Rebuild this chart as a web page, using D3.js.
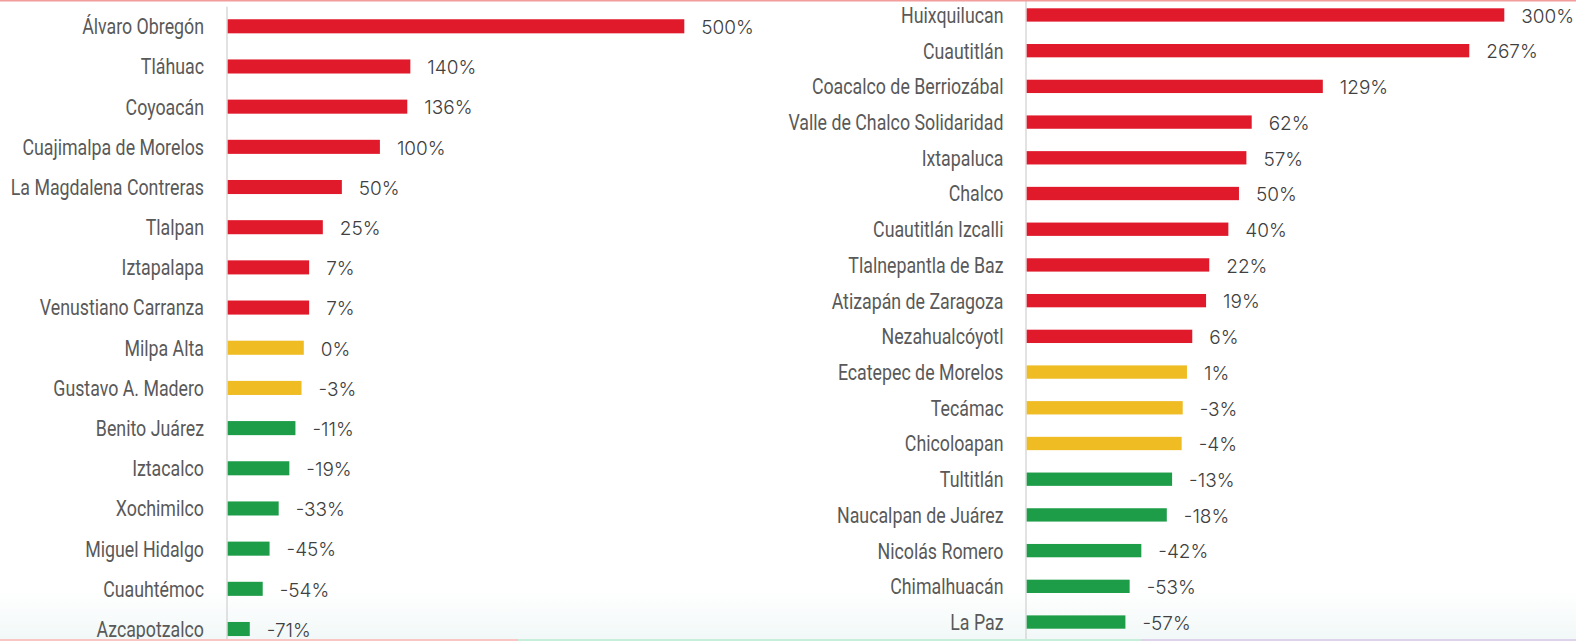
<!DOCTYPE html>
<html>
<head>
<meta charset="utf-8">
<script src="https://cdn.jsdelivr.net/npm/d3@7"></script>
<style>
	body { margin: 0; background: #fff; overflow: hidden; }
	svg { display: block; }
</style>
</head>
<body>
<div id="main-view"></div>
<script>
// CDMX alcaldias (left panel)
var cdmxNames = ["Álvaro Obregón", "Tláhuac", "Coyoacán", "Cuajimalpa de Morelos", "La Magdalena Contreras",
	"Tlalpan", "Iztapalapa", "Venustiano Carranza", "Milpa Alta", "Gustavo A. Madero", "Benito Juárez",
	"Iztacalco", "Xochimilco", "Miguel Hidalgo", "Cuauhtémoc", "Azcapotzalco"];
var cdmxValues = [500, 140, 136, 100, 50, 25, 7, 7, 0, -3, -11, -19, -33, -45, -54, -71];

// Estado de Mexico municipios (right panel)
var edomexNames = ["Huixquilucan", "Cuautitlán", "Coacalco de Berriozábal", "Valle de Chalco Solidaridad",
	"Ixtapaluca", "Chalco", "Cuautitlán Izcalli", "Tlalnepantla de Baz", "Atizapán de Zaragoza",
	"Nezahualcóyotl", "Ecatepec de Morelos", "Tecámac", "Chicoloapan", "Tultitlán", "Naucalpan de Juárez",
	"Nicolás Romero", "Chimalhuacán", "La Paz"];
var edomexValues = [300, 267, 129, 62, 57, 50, 40, 22, 19, 6, 1, -3, -4, -13, -18, -42, -53, -57];

var cdmxDomain = [-100, 500];
var edomexDomain = [-150, 300];

var width = 1576,
	height = 641;

var svg = d3.select("#main-view").append("svg")
	.attr("width", width)
	.attr("height", height);

// faint background shading at the bottom
var defs = svg.append("defs");
var grad = defs.append("linearGradient")
	.attr("id", "bottom-fade")
	.attr("x1", 0).attr("y1", 0).attr("x2", 0).attr("y2", 1);
grad.append("stop").attr("offset", "0%").attr("stop-color", "#ffffff");
grad.append("stop").attr("offset", "100%").attr("stop-color", "#f1f8f7");
svg.append("rect")
	.attr("x", 0).attr("y", 590)
	.attr("width", width).attr("height", 51)
	.attr("fill", "url(#bottom-fade)");

function barColor(v) {
	if (v >= 5) return "#e0192b";
	if (v <= -5) return "#1d9d48";
	return "#efbc23";
}

function drawPanel(names, values, opts) {
	var x = d3.scaleLinear()
		.domain(opts.domain)
		.range(opts.xRange);

	var y = d3.scaleBand()
		.domain(names)
		.range(opts.yRange)
		.paddingInner(opts.padding)
		.paddingOuter(opts.padding / 2);

	var g = svg.append("g");

	var axis = g.append("g")
		.attr("transform", "translate(" + opts.axisX + ",0)")
		.call(d3.axisLeft(y).tickSize(0).tickSizeOuter(0).tickPadding(opts.labelGap));

	axis.select(".domain")
		.attr("stroke", "#d6d6d6")
		.attr("stroke-width", 1.4);

	axis.selectAll("text")
		.attr("x", null)
		.attr("dy", null)
		.attr("transform", "translate(" + (-opts.labelGap) + ",7.9) scale(" + opts.squeeze + ",1)")
		.attr("fill", "#595959")
		.style("font-family", "Roboto, 'DejaVu Sans Condensed', sans-serif")
		.style("font-size", "22.5px");

	var data = names.map(function(n, i) {
		return { name: n, value: values[i] };
	});

	g.selectAll(".bar")
		.data(data)
		.enter().append("rect")
		.attr("class", "bar")
		.attr("x", x(opts.domain[0]))
		.attr("y", function(d) {
			return y(d.name);
		})
		.attr("width", function(d) {
			return x(d.value) - x(opts.domain[0]);
		})
		.attr("height", y.bandwidth())
		.attr("fill", function(d) {
			return barColor(d.value);
		});

	g.selectAll(".value")
		.data(data)
		.enter().append("text")
		.attr("class", "value")
		.attr("x", function(d) {
			return x(d.value) + 17;
		})
		.attr("y", function(d) {
			return y(d.name) + y.bandwidth() / 2 + 7.8;
		})
		.attr("fill", "#404040")
		.style("font-family", "Inter, Lato, sans-serif")
		.style("font-weight", 300)
		.style("font-size", "19px")
		.text(function(d) {
			return d.value + "%";
		});
}

drawPanel(cdmxNames, cdmxValues, {
	domain: cdmxDomain,
	xRange: [227.7, 684.3],
	yRange: [6.2, 649.1],
	padding: 0.65,
	axisX: 226.5,
	labelGap: 22.5,
	squeeze: 0.79
});

drawPanel(edomexNames, edomexValues, {
	domain: edomexDomain,
	xRange: [1026.7, 1504.3],
	yRange: [-2.9, 639.9],
	padding: 0.627,
	axisX: 1025.5,
	labelGap: 22,
	squeeze: 0.79
});

// top rule and coloured bottom rule
svg.append("rect")
	.attr("x", 0).attr("y", 0)
	.attr("width", width).attr("height", 1.5)
	.attr("fill", "#f29c9c");

var bottomRule = [
	{ from: 0, to: 518, color: "#f9c6c4" },
	{ from: 518, to: 1141, color: "#c6eedb" },
	{ from: 1141, to: 1576, color: "#ddd3ea" }
];
svg.selectAll(".rule")
	.data(bottomRule)
	.enter().append("rect")
	.attr("class", "rule")
	.attr("x", function(d) { return d.from; })
	.attr("y", 639)
	.attr("width", function(d) { return d.to - d.from; })
	.attr("height", 2)
	.attr("fill", function(d) { return d.color; });
</script>
</body>
</html>
